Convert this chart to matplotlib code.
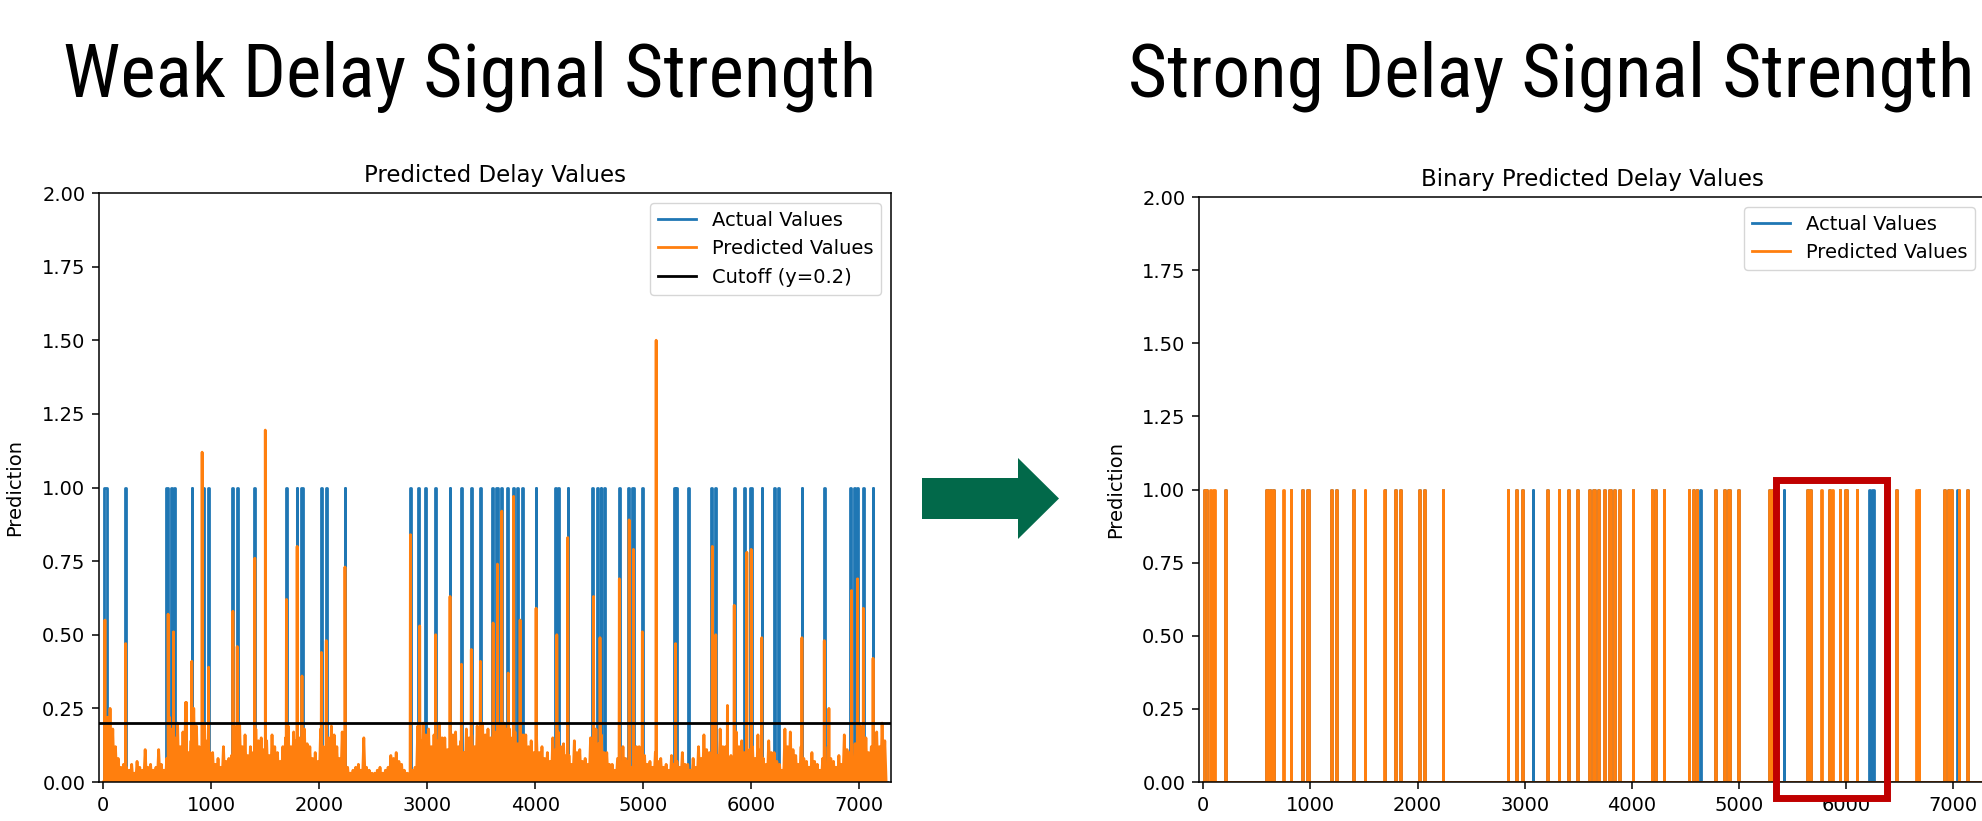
import matplotlib
matplotlib.use("Agg")
import matplotlib.pyplot as plt
from matplotlib import font_manager
from matplotlib.font_manager import FontProperties
from matplotlib.patches import Polygon, Rectangle
from matplotlib.lines import Line2D
import numpy as np

# ---------------- data ----------------
n_points = 7260
xlim = (-40, 7295)
ylim = (0, 2)
cutoff = 0.2

headline_left = "Weak Delay Signal Strength"
headline_right = "Strong Delay Signal Strength"
title_left = "Predicted Delay Values"
title_right = "Binary Predicted Delay Values"
ylabel = "Prediction"
legend_labels = ["Actual Values", "Predicted Values", "Cutoff (y=0.2)"]

# intervals (start, end) where the actual delay flag = 1
actual_on = [(5, 30), (205, 210), (585, 600), (625, 635), (650, 662), (817, 822),
             (925, 935), (970, 982), (1190, 1200), (1235, 1247), (1400, 1405),
             (1694, 1699), (1790, 1797), (1835, 1848), (2015, 2022), (2060, 2070),
             (2236, 2241), (2842, 2847), (2915, 2925), (2975, 2985), (3076, 3081),
             (3209, 3214), (3315, 3320), (3406, 3411), (3490, 3495), (3598, 3612),
             (3640, 3655), (3680, 3692), (3742, 3750), (3790, 3805), (3835, 3845),
             (3880, 3888), (4006, 4011), (4183, 4190), (4215, 4223), (4299, 4304),
             (4530, 4537), (4570, 4580), (4605, 4612), (4640, 4648), (4777, 4782),
             (4858, 4866), (4895, 4915), (4990, 4995), (5283, 5290), (5305, 5312),
             (5415, 5420), (5630, 5640), (5665, 5674), (5841, 5846), (5938, 5946),
             (5990, 6004), (6096, 6101), (6215, 6222), (6245, 6258), (6468, 6473),
             (6675, 6680), (6915, 6922), (6950, 6958), (6980, 6988), (7037, 7042),
             (7127, 7132)]

# intervals where the binary prediction = 1 (right panel)
binary_pred_on = [(5, 30), (60, 70), (95, 105), (205, 210), (585, 600), (625, 635),
                  (650, 662), (745, 752), (817, 822), (925, 935), (970, 982),
                  (1190, 1200), (1235, 1247), (1400, 1405), (1505, 1512), (1690, 1696),
                  (1790, 1797), (1835, 1848), (2015, 2022), (2060, 2070), (2236, 2241),
                  (2842, 2847), (2915, 2925), (2975, 2985), (3209, 3214), (3315, 3320),
                  (3406, 3411), (3490, 3495), (3598, 3612), (3640, 3655), (3680, 3692),
                  (3742, 3750), (3790, 3805), (3835, 3845), (3880, 3888), (4006, 4011),
                  (4183, 4190), (4215, 4223), (4299, 4304), (4530, 4537), (4570, 4580),
                  (4605, 4612), (4777, 4782), (4858, 4866), (4895, 4915), (4990, 4995),
                  (5283, 5290), (5305, 5312), (5630, 5640), (5665, 5674), (5765, 5770),
                  (5841, 5846), (5865, 5872), (5938, 5946), (5990, 6004), (6096, 6101),
                  (6468, 6473), (6650, 6656), (6675, 6680), (6915, 6922), (6950, 6958),
                  (6980, 6988), (7050, 7055), (7127, 7132)]

# large predicted-value peaks (left panel)
peak_x = [15, 207, 600, 650, 770, 819, 915, 975, 1200, 1240, 1403, 1500, 1696, 1795,
          1840, 2020, 2065, 2238, 2844, 2930, 3078, 3211, 3317, 3408, 3492, 3610, 3650,
          3690, 3750, 3800, 3860, 4008, 4200, 4301, 4540, 4600, 4779, 4870, 4910, 4992,
          5120, 5300, 5640, 5672, 5780, 5843, 5960, 6000, 6098, 6470, 6677, 6720, 6930,
          6985, 7039, 7129]
peak_y = [0.55, 0.47, 0.57, 0.51, 0.27, 0.41, 1.12, 0.39, 0.58, 0.46, 0.76, 1.195, 0.62,
          0.80, 0.36, 0.44, 0.48, 0.73, 0.84, 0.53, 0.50, 0.63, 0.40, 0.45, 0.41, 0.54,
          0.74, 0.92, 0.37, 0.97, 0.55, 0.59, 0.50, 0.83, 0.63, 0.49, 0.69, 0.89, 0.79,
          0.51, 1.50, 0.47, 0.80, 0.50, 0.26, 0.60, 0.78, 0.79, 0.49, 0.49, 0.48, 0.25,
          0.65, 0.69, 0.59, 0.42]

# background noise level of predicted values, per 25-sample block (left panel)
noise_block = 25
noise_level = [
    # 0-500
    0.24, 0.22, 0.25, 0.18, 0.12, 0.08, 0.05, 0.06, 0.05, 0.04,
    0.06, 0.03, 0.07, 0.05, 0.04, 0.11, 0.05, 0.06, 0.04, 0.05,
    # 500-1000
    0.11, 0.06, 0.04, 0.08, 0.22, 0.18, 0.15, 0.20, 0.12, 0.17,
    0.27, 0.10, 0.14, 0.25, 0.19, 0.12, 0.16, 0.20, 0.14, 0.10,
    # 1000-1500
    0.10, 0.06, 0.08, 0.05, 0.12, 0.07, 0.08, 0.09, 0.19, 0.15,
    0.20, 0.12, 0.16, 0.09, 0.12, 0.10, 0.18, 0.14, 0.15, 0.11,
    # 1500-2000
    0.14, 0.09, 0.16, 0.12, 0.10, 0.07, 0.12, 0.15, 0.19, 0.12,
    0.17, 0.14, 0.15, 0.10, 0.18, 0.13, 0.12, 0.08, 0.10, 0.07,
    # 2000-2500
    0.18, 0.12, 0.20, 0.15, 0.19, 0.16, 0.12, 0.08, 0.17, 0.10,
    0.05, 0.03, 0.04, 0.05, 0.06, 0.04, 0.15, 0.05, 0.04, 0.03,
    # 2500-3000
    0.03, 0.04, 0.05, 0.03, 0.04, 0.05, 0.09, 0.08, 0.10, 0.07,
    0.06, 0.04, 0.03, 0.03, 0.04, 0.05, 0.19, 0.14, 0.20, 0.16,
    # 3000-3500
    0.18, 0.12, 0.16, 0.14, 0.20, 0.15, 0.15, 0.11, 0.19, 0.16,
    0.17, 0.12, 0.14, 0.10, 0.18, 0.15, 0.16, 0.12, 0.19, 0.14,
    # 3500-4000
    0.20, 0.16, 0.18, 0.15, 0.20, 0.17, 0.19, 0.14, 0.20, 0.18,
    0.18, 0.15, 0.17, 0.13, 0.19, 0.16, 0.16, 0.12, 0.14, 0.10,
    # 4000-4500
    0.15, 0.10, 0.12, 0.08, 0.10, 0.07, 0.15, 0.11, 0.17, 0.12,
    0.13, 0.09, 0.09, 0.06, 0.14, 0.10, 0.11, 0.07, 0.08, 0.06,
    # 4500-5000
    0.15, 0.12, 0.18, 0.13, 0.16, 0.10, 0.10, 0.06, 0.06, 0.04,
    0.08, 0.05, 0.12, 0.08, 0.07, 0.05, 0.18, 0.12, 0.12, 0.08,
    # 5000-5500
    0.09, 0.06, 0.07, 0.05, 0.10, 0.07, 0.08, 0.05, 0.06, 0.04,
    0.09, 0.06, 0.07, 0.05, 0.10, 0.06, 0.06, 0.04, 0.08, 0.05,
    # 5500-6000
    0.12, 0.08, 0.16, 0.11, 0.10, 0.07, 0.13, 0.09, 0.18, 0.12,
    0.12, 0.08, 0.09, 0.06, 0.17, 0.12, 0.14, 0.10, 0.15, 0.11,
    # 6000-6500
    0.12, 0.08, 0.16, 0.11, 0.08, 0.06, 0.14, 0.10, 0.10, 0.07,
    0.06, 0.04, 0.18, 0.12, 0.17, 0.11, 0.09, 0.06, 0.12, 0.08,
    # 6500-7000
    0.07, 0.05, 0.10, 0.07, 0.06, 0.04, 0.08, 0.06, 0.12, 0.08,
    0.07, 0.05, 0.09, 0.06, 0.16, 0.11, 0.10, 0.07, 0.13, 0.09,
    # 7000-7300
    0.19, 0.13, 0.15, 0.10, 0.12, 0.08, 0.17, 0.12, 0.20, 0.14,
    0.14, 0.10]


# ---------------- build series from the data ----------------
def step_series(intervals, n):
    xs, ys = [0], [0]
    for s, e in intervals:
        xs += [s, s, e, e]
        ys += [0, 1, 1, 0]
    xs.append(n - 1)
    ys.append(0)
    return np.array(xs), np.array(ys)


def predicted_series():
    pts = []
    for i, v in enumerate(noise_level):
        x0 = i * noise_block
        pts.append((x0, 0.0))
        pts.append((x0 + noise_block / 2, v))
    for px_, py_ in zip(peak_x, peak_y):
        pts.append((px_ - 3, 0.0))
        pts.append((px_, py_))
        pts.append((px_ + 3, 0.0))
    pts.sort(key=lambda p: p[0])
    pts = [p for p in pts if p[0] <= n_points - 1]
    return np.array([p[0] for p in pts]), np.array([p[1] for p in pts])


ax_x, ax_y = step_series(actual_on, n_points)
bp_x, bp_y = step_series(binary_pred_on, n_points)
pr_x, pr_y = predicted_series()

# ---------------- fonts ----------------
def find_condensed_font():
    pref = ["liberation sans narrow", "arial narrow", "roboto condensed",
            "open sans condensed", "noto sans", "roboto", "open sans",
            "liberation sans", "dejavu sans"]
    cands = []
    for f in font_manager.fontManager.ttflist:
        name = f.name.lower()
        fname = str(f.fname).lower()
        stretch = f.stretch
        cond = ("narrow" in name or "condensed" in name or "narrow" in fname
                or "condensed" in fname
                or stretch in ("condensed", "semi-condensed", "extra-condensed",
                               "ultra-condensed")
                or (isinstance(stretch, (int, float)) and stretch < 500))
        if not cond:
            continue
        if f.style != "normal":
            continue
        w = f.weight
        if isinstance(w, str):
            w = {"normal": 400, "regular": 400, "book": 400}.get(w, 700)
        if not (350 <= w <= 450):
            continue
        if "mono" in name or "serif" in name and "sans" not in name:
            continue
        rank = len(pref)
        for i, p in enumerate(pref):
            if name.startswith(p):
                rank = i
                break
        cands.append((rank, f.fname))
    if cands:
        cands.sort()
        return FontProperties(fname=cands[0][1])
    return FontProperties(family="Liberation Sans")


head_fp = find_condensed_font()

# ---------------- figure ----------------
W, H = 1983, 821
fig = plt.figure(figsize=(W / 100, H / 100), dpi=100)

blue, orange = "#1f77b4", "#ff7f0e"
lw = 2.0
fs = 14

def px2fig(x, y):
    return (x / W, 1 - y / H)

ax1 = fig.add_axes([99 / W, (H - 782) / H, 792 / W, 589 / H])
ax2 = fig.add_axes([1199 / W, (H - 782) / H, 786 / W, 585 / H])

for ax in (ax1, ax2):
    ax.set_xlim(*xlim)
    ax.set_ylim(*ylim)
    ax.set_yticks(np.arange(0, 2.01, 0.25))
    ax.set_yticklabels([f"{v:.2f}" for v in np.arange(0, 2.01, 0.25)])
    ax.set_xticks(np.arange(0, 7001, 1000))
    ax.tick_params(labelsize=fs, length=4.9, width=1.1, pad=4.9)
    for sp in ax.spines.values():
        sp.set_linewidth(1.1)
    ax.set_ylabel(ylabel, fontsize=fs)
    ax.yaxis.set_label_coords(-0.094, 0.5)

# left panel
ax1.plot(ax_x, ax_y, color=blue, lw=lw)
ax1.plot(pr_x, pr_y, color=orange, lw=lw)
ax1.axhline(cutoff, color="black", lw=lw)
ax1.set_title(title_left, fontsize=16.5, pad=8)
h1 = [Line2D([], [], color=blue, lw=lw), Line2D([], [], color=orange, lw=lw),
      Line2D([], [], color="black", lw=lw)]
ax1.legend(h1, legend_labels, loc="upper right", fontsize=fs)

# right panel
ax2.plot(ax_x, ax_y, color=blue, lw=lw)
ax2.plot(bp_x, bp_y, color=orange, lw=lw)
ax2.set_title(title_right, fontsize=16.5, pad=8)
ax2.legend(h1[:2], legend_labels[:2], loc="upper right", fontsize=fs)

# highlight box
ax2.add_patch(Rectangle((5340, -0.053), 1045, 1.084, fill=False,
                        edgecolor="#C00000", lw=5.0, clip_on=False, zorder=5))

# headlines (size fitted to the reference width of the left headline)
t1 = fig.text(470 / W, 1 - 97 / H, headline_left, fontproperties=head_fp,
              fontsize=50, ha="center", va="baseline")
t2 = fig.text(1551 / W, 1 - 97 / H, headline_right, fontproperties=head_fp,
              fontsize=50, ha="center", va="baseline")
fig.canvas.draw()
wpx = t1.get_window_extent().width
size = 50 * 814 / wpx
size = min(size, 58)
t1.set_fontsize(size)
t2.set_fontsize(size)

# arrow
arrow_px = [(922, 478), (1018, 478), (1018, 458), (1059, 498.5), (1018, 539),
            (1018, 519), (922, 519)]
fig.patches.append(Polygon([px2fig(*p) for p in arrow_px], closed=True,
                           transform=fig.transFigure, facecolor="#02694A",
                           edgecolor="none"))

fig.savefig("out.png", dpi=100)
